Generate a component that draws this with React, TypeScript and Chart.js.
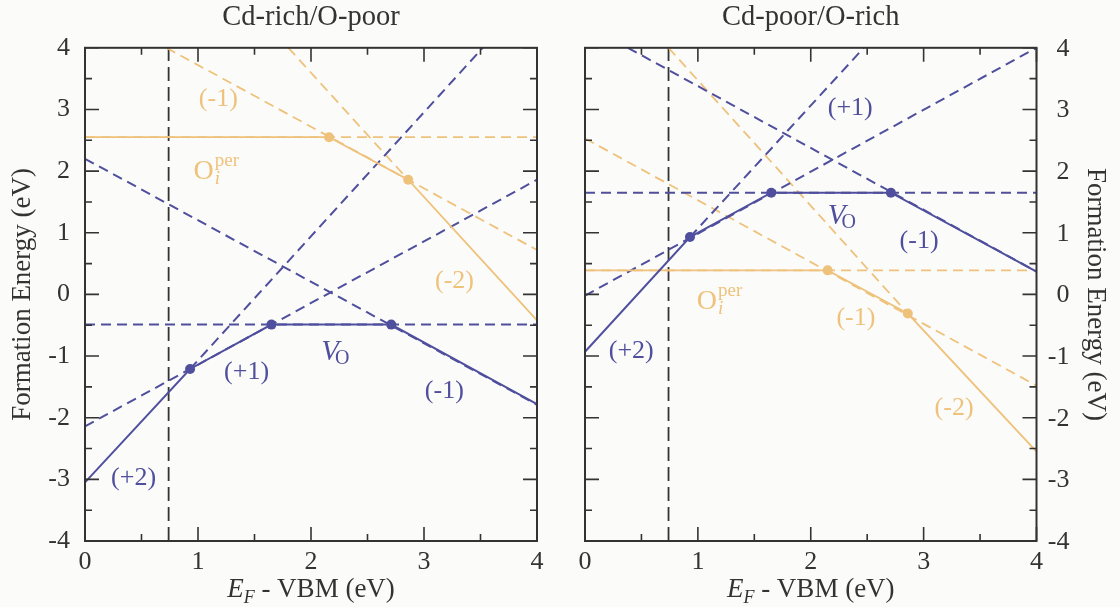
import React, { useEffect, useRef } from "react";
import { Chart, registerables } from "chart.js";
Chart.register(...registerables);

type P = [number, number];

const FONT = "'Liberation Serif', serif";
const BLUE = "#4f4f9d";
const ORANGE = "#efc27c";
const INK = "#333333";
const BG = "#fbfbfa";

const panelTitles = ["Cd-rich/O-poor", "Cd-poor/O-rich"];
const yAxisTitle = "Formation Energy (eV)";
const xRange: P = [0, 4];
const yRange: P = [-4, 4];

// ---- Cd-rich / O-poor ----
const richVoSolid: P[] = [[0, -3.05], [0.93, -1.21], [1.65, -0.49], [2.71, -0.49], [4, -1.78]];
const richVoDashed: P[][] = [
  [[0.93, -1.21], [3.52, 4]],
  [[0, -2.14], [4, 1.86]],
  [[0, -0.49], [4, -0.49]],
  [[0, 2.2], [4, -1.79]],
];
const richVoDots: P[] = [[0.93, -1.21], [1.65, -0.49], [2.71, -0.49]];
const richOiSolid: P[] = [[0, 2.55], [2.16, 2.55], [2.86, 1.86], [4, -0.42]];
const richOiDashed: P[][] = [
  [[0, 2.55], [4, 2.55]],
  [[0.72, 4], [4, 0.72]],
  [[1.8, 4], [2.86, 1.86]],
];
const richOiDots: P[] = [[2.16, 2.55], [2.86, 1.86]];
const richVbm: P[] = [[0.74, -4], [0.74, 4]];

// ---- Cd-poor / O-rich ----
const poorVoSolid: P[] = [[0, -0.93], [0.93, 0.93], [1.65, 1.65], [2.71, 1.65], [4, 0.37]];
const poorVoDashed: P[][] = [
  [[0.93, 0.93], [2.47, 4]],
  [[0, -0.02], [4, 4]],
  [[0, 1.65], [4, 1.65]],
  [[0.38, 4], [4, 0.37]],
];
const poorVoDots: P[] = [[0.93, 0.93], [1.65, 1.65], [2.71, 1.65]];
const poorOiSolid: P[] = [[0, 0.39], [2.15, 0.39], [2.86, -0.31], [4, -2.55]];
const poorOiDashed: P[][] = [
  [[0, 0.39], [4, 0.39]],
  [[0, 2.53], [4, -1.48]],
  [[0.74, 4], [2.86, -0.31]],
];
const poorOiDots: P[] = [[2.15, 0.39], [2.86, -0.31]];
const poorVbm: P[] = [[0.74, -4], [0.74, 4]];

// annotation labels: [x, y, text, kind]
type Lab = [number, number, string, string];
const richLabels: Lab[] = [
  [1.18, 3.18, "(-1)", "oi"],
  [3.27, 0.23, "(-2)", "oi"],
  [1.05, 2.02, "Oi^per", "oiName"],
  [1.43, -1.25, "(+1)", "vo"],
  [2.17, -0.9, "VO", "voName"],
  [3.18, -1.55, "(-1)", "vo"],
  [0.43, -2.96, "(+2)", "vo"],
];
const poorLabels: Lab[] = [
  [2.35, 3.04, "(+1)", "vo"],
  [2.23, 1.31, "VO", "voName"],
  [2.96, 0.88, "(-1)", "vo"],
  [0.41, -0.9, "(+2)", "vo"],
  [1.08, -0.09, "Oi^per", "oiName"],
  [2.4, -0.36, "(-1)", "oi"],
  [3.27, -1.83, "(-2)", "oi"],
];

type PanelData = {
  title: string;
  side: "left" | "right";
  voSolid: P[]; voDashed: P[][]; voDots: P[];
  oiSolid: P[]; oiDashed: P[][]; oiDots: P[];
  vbm: P[];
  labels: Lab[];
};

const panels: PanelData[] = [
  { title: panelTitles[0], side: "left", voSolid: richVoSolid, voDashed: richVoDashed, voDots: richVoDots,
    oiSolid: richOiSolid, oiDashed: richOiDashed, oiDots: richOiDots, vbm: richVbm, labels: richLabels },
  { title: panelTitles[1], side: "right", voSolid: poorVoSolid, voDashed: poorVoDashed, voDots: poorVoDots,
    oiSolid: poorOiSolid, oiDashed: poorOiDashed, oiDots: poorOiDots, vbm: poorVbm, labels: poorLabels },
];

const toXY = (pts: P[]) => pts.map(([x, y]) => ({ x, y }));

function buildDatasets(d: PanelData) {
  const dots = (pts: P[], color: string) => ({
    data: toXY(pts), showLine: false, pointRadius: 5, pointHoverRadius: 5,
    pointBackgroundColor: color, pointBorderColor: color, pointBorderWidth: 0,
  });
  const line = (pts: P[], color: string, width: number, dash: number[]) => ({
    data: toXY(pts), showLine: true, borderColor: color, borderWidth: width, borderDash: dash,
    pointRadius: 0, pointHoverRadius: 0, fill: false, tension: 0,
  });
  const ds: any[] = [];
  ds.push(dots(d.voDots, BLUE), dots(d.oiDots, ORANGE));
  ds.push(line(d.voSolid, BLUE, 2, []), line(d.oiSolid, ORANGE, 1.8, []));
  d.voDashed.forEach((p) => ds.push(line(p, BLUE, 2, [10, 6])));
  d.oiDashed.forEach((p) => ds.push(line(p, ORANGE, 1.8, [10, 6])));
  ds.push(line(d.vbm, INK, 1.8, [14, 6]));
  return ds;
}

function drawParts(ctx: CanvasRenderingContext2D, x: number, baseline: number,
  parts: { t: string; f: string; dx?: number; dy?: number }[]) {
  let cx = x;
  for (const p of parts) {
    ctx.font = p.f;
    cx += p.dx || 0;
    ctx.fillText(p.t, cx, baseline + (p.dy || 0));
    cx += ctx.measureText(p.t).width;
  }
}

function decorPlugin(d: PanelData) {
  return {
    id: "decor",
    afterDraw(chart: any) {
      const { ctx, chartArea: a, scales } = chart;
      const xs = scales.x, ys = scales.y;
      ctx.save();
      ctx.strokeStyle = INK;
      ctx.lineWidth = 1.6;
      ctx.setLineDash([]);
      ctx.beginPath();
      const xt: number[] = xs.ticks.map((t: any) => t.value);
      const yt: number[] = ys.ticks.map((t: any) => t.value);
      const withMinor = (arr: number[]) => {
        const out: [number, boolean][] = [];
        arr.forEach((v, i) => {
          out.push([v, true]);
          if (i < arr.length - 1) out.push([(v + arr[i + 1]) / 2, false]);
        });
        return out;
      };
      withMinor(xt).forEach(([v, major]) => {
        const px = xs.getPixelForValue(v);
        const len = major ? 14 : 7;
        ctx.moveTo(px, a.bottom); ctx.lineTo(px, a.bottom - len);
        ctx.moveTo(px, a.top); ctx.lineTo(px, a.top + len);
      });
      withMinor(yt).forEach(([v, major]) => {
        const py = ys.getPixelForValue(v);
        const len = major ? 14 : 7;
        ctx.moveTo(a.left, py); ctx.lineTo(a.left + len, py);
        ctx.moveTo(a.right, py); ctx.lineTo(a.right - len, py);
      });
      ctx.stroke();
      ctx.lineWidth = 2;
      ctx.strokeRect(a.left, a.top, a.right - a.left, a.bottom - a.top);

      // right-side tick labels (right aligned)
      if (d.side === "right") {
        ctx.fillStyle = INK;
        ctx.font = `26px ${FONT}`;
        ctx.textAlign = "right";
        ctx.textBaseline = "middle";
        ys.ticks.forEach((t: any) => {
          ctx.fillText(String(t.value), a.right + 33, ys.getPixelForValue(t.value) + 1);
        });
      }

      // x axis title: E_F - VBM (eV)
      ctx.fillStyle = INK;
      ctx.textAlign = "left";
      ctx.textBaseline = "alphabetic";
      const partsX = [
        { t: "E", f: `italic 27px ${FONT}` },
        { t: "F", f: `italic 18px ${FONT}`, dy: 6 },
        { t: " - VBM (eV)", f: `27px ${FONT}` },
      ];
      let w = 0;
      partsX.forEach((p) => { ctx.font = p.f; w += ctx.measureText(p.t).width; });
      drawParts(ctx, (a.left + a.right) / 2 - w / 2, 597, partsX);

      // annotations
      d.labels.forEach(([lx, ly, text, kind]) => {
        const px = xs.getPixelForValue(lx);
        const py = ys.getPixelForValue(ly);
        const color = kind.startsWith("vo") ? BLUE : ORANGE;
        ctx.fillStyle = color;
        if (kind === "vo" || kind === "oi") {
          ctx.font = `26px ${FONT}`;
          ctx.textAlign = "center";
          ctx.fillText(text, px, py + 8);
          ctx.textAlign = "left";
        } else if (kind === "voName") {
          ctx.font = `italic 29px ${FONT}`;
          const vw = ctx.measureText("V").width;
          const base = py + 10;
          drawParts(ctx, px - vw / 2, base, [
            { t: "V", f: `italic 29px ${FONT}` },
            { t: "O", f: `20px ${FONT}`, dx: -4, dy: 4 },
          ]);
        } else if (kind === "oiName") {
          ctx.font = `28px ${FONT}`;
          const ow = ctx.measureText("O").width;
          const base = py + 9.5;
          const x0 = px - ow / 2;
          drawParts(ctx, x0, base, [{ t: "O", f: `28px ${FONT}` }]);
          drawParts(ctx, x0 + ow + 1, base + 5, [{ t: "i", f: `italic 19px ${FONT}` }]);
          drawParts(ctx, x0 + ow + 1, base - 13, [{ t: "per", f: `19px ${FONT}` }]);
        }
      });
      ctx.restore();
    },
  };
}

function Panel({ d }: { d: PanelData }) {
  const ref = useRef<HTMLCanvasElement | null>(null);
  useEffect(() => {
    if (!ref.current) return;
    const isLeft = d.side === "left";
    const chart = new Chart(ref.current, {
      type: "scatter",
      data: { datasets: buildDatasets(d) },
      plugins: [decorPlugin(d)],
      options: {
        animation: false,
        responsive: false,
        events: [],
        layout: { padding: { top: 0, bottom: 0, left: isLeft ? 0 : 25, right: isLeft ? 23 : 0 } },
        plugins: {
          legend: { display: false },
          tooltip: { enabled: false },
          title: {
            display: true,
            text: d.title,
            fullSize: false,
            color: INK,
            font: { family: FONT, size: 28.5, weight: "normal", lineHeight: 1.2 },
            padding: { top: 0.6, bottom: 13 },
          },
        },
        scales: {
          x: {
            type: "linear",
            min: xRange[0],
            max: xRange[1],
            grid: { display: false, drawTicks: false },
            border: { display: false },
            ticks: { stepSize: 1, color: INK, font: { family: FONT, size: 26 }, padding: 6, maxRotation: 0, autoSkip: false },
            afterFit: (s: any) => { s.height = 66; },
          },
          y: {
            type: "linear",
            position: d.side,
            min: yRange[0],
            max: yRange[1],
            grid: { display: false, drawTicks: false },
            border: { display: false },
            ticks: { display: isLeft, stepSize: 1, color: INK, font: { family: FONT, size: 26 }, padding: 15 },
            title: {
              display: true,
              text: yAxisTitle,
              color: INK,
              font: { family: FONT, size: 27, lineHeight: 1.2 },
              padding: { top: isLeft ? 7 : 9, bottom: 0 },
            },
            afterFit: (s: any) => { s.width = isLeft ? 85 : 83.5; },
          },
        },
      } as any,
    });
    return () => chart.destroy();
  }, [d]);
  return <canvas ref={ref} width={560} height={607} style={{ display: "block", width: 560, height: 607 }} />;
}

export default function App() {
  return (
    <div style={{ position: "absolute", left: 0, top: 0, width: 1120, height: 607, background: BG, display: "flex" }}>
      {panels.map((p) => (
        <Panel key={p.title} d={p} />
      ))}
    </div>
  );
}
